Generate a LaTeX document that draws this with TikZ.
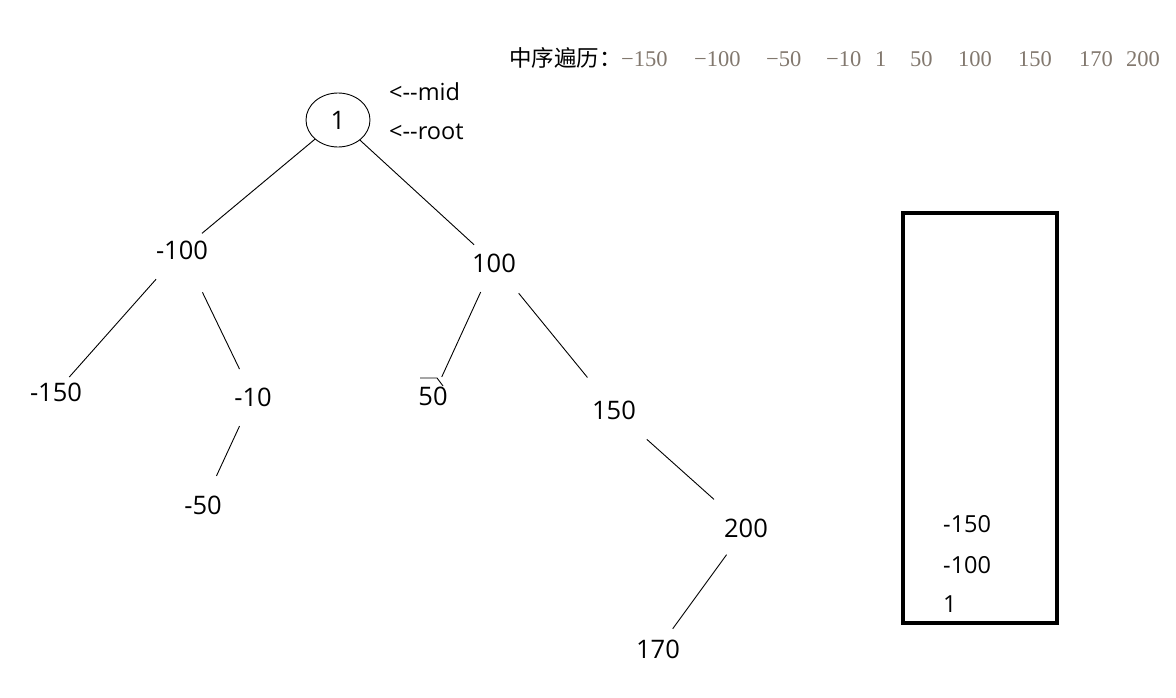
\documentclass[tikz,border=0pt]{standalone}
\usepackage{fontspec}
\setmainfont{Open Sans}
\newfontfamily\cjkfont{Noto Sans CJK SC}
\newfontfamily\serifnum{Liberation Serif}
\usetikzlibrary{shapes.geometric}
\definecolor{travgray}{RGB}{130,120,110}
\begin{document}
\begin{tikzpicture}[x=1pt,y=-1pt,
  tl/.style={font=\fontsize{25.5}{30}\selectfont, inner sep=0pt},
  note/.style={font=\fontsize{23.5}{28}\selectfont, inner sep=0pt, anchor=west},
  seq/.style={font=\serifnum\fontsize{22.5}{26}\selectfont, text=travgray, inner sep=0pt, anchor=west},
  tedge/.style={draw, line width=0.9pt}]
\useasboundingbox (0,0) rectangle (1176,698);

% tree nodes
\node[ellipse, draw, line width=0.9pt, minimum width=64pt, minimum height=54pt, inner sep=0pt,
      font=\fontsize{25.5}{30}\selectfont] (one) at (338,120) {1};
\node[tl] (m100) at (182,250) {-100};
\node[tl] (p100) at (494,263) {100};
\node[tl] (m150) at (56,392) {-150};
\node[tl] (m10)  at (253,397) {-10};
\node[tl] (p50)  at (433,396) {50};
\node[tl] (p150) at (614,410) {150};
\node[tl] (m50)  at (203,505) {-50};
\node[tl] (p200) at (746,528) {200};
\node[tl] (p170) at (658,649) {170};

% connectors
\path[tedge, shorten >=26pt] (one) -- (m100.center);
\path[tedge, shorten >=27pt] (one) -- (p100.center);
\path[tedge, shorten <=39pt, shorten >=20pt] (m100.center) -- (m150.center);
\path[tedge, shorten <=47pt, shorten >=31pt] (m100.center) -- (m10.center);
\path[tedge, shorten <=32pt, shorten >=21pt] (p100.center) -- (p50.center);
\path[tedge, shorten <=39pt, shorten >=42pt] (p100.center) -- (p150.center);
\path[tedge, shorten <=32pt, shorten >=32pt] (m10.center) -- (m50.center);
\path[tedge, shorten <=44pt, shorten >=43pt] (p150.center) -- (p200.center);
\path[tedge, shorten <=33pt, shorten >=25pt] (p200.center) -- (p170.center);

% small stub above 50
\coordinate (s1) at (420,378);
\coordinate (s2) at (437,378);
\coordinate (s3) at (443,386);
\draw[line width=0.9pt] (s1) -- (s2) -- (s3);

% pointer notes
\node[note] (nmid) at (389,92) {<-{}-mid};
\node[note] (nroot) at (389,132) {<-{}-root};

% traversal line
\node[font=\cjkfont\fontsize{22.5}{26}\selectfont, inner sep=0pt, anchor=west] (title) at (509,58) {中序遍历：};
\node[seq] (q1) at (621,59) {−150};
\node[seq] (q2) at (694,59) {−100};
\node[seq] (q3) at (766,59) {−50};
\node[seq] (q4) at (826,59) {−10};
\node[seq] (q5) at (875,59) {1};
\node[seq] (q6) at (910,59) {50};
\node[seq] (q7) at (958,59) {100};
\node[seq] (q8) at (1018,59) {150};
\node[seq] (q9) at (1079,59) {170};
\node[seq] (q10) at (1126,59) {200};

% stack box
\node[draw, line width=4pt, minimum width=154pt, minimum height=410pt, inner sep=0pt, anchor=north west] (stack) at (901,211) {};
\node[note] (s150) at (943,524) {-150};
\node[note] (s100) at (943,565) {-100};
\node[note] (s1v)  at (943,604) {1};
\end{tikzpicture}
\end{document}
